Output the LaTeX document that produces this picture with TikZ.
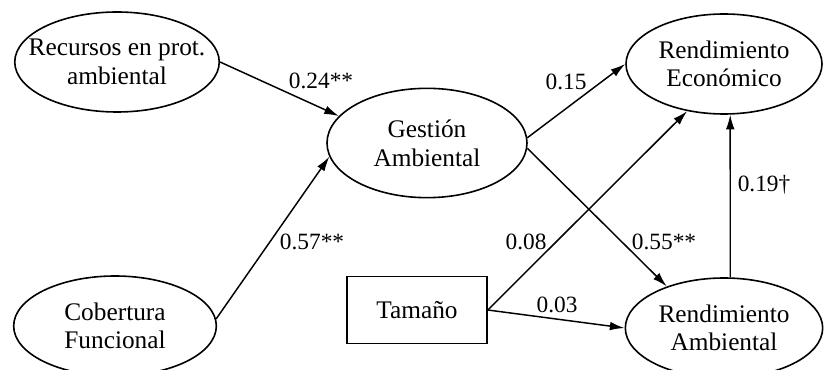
\documentclass[tikz,border=0pt]{standalone}
\usepackage{fontspec}
\setmainfont{Liberation Serif}
\usetikzlibrary{arrows.meta, shapes.geometric}

\begin{document}
\begin{tikzpicture}[x=0.75pt, y=-0.75pt,
    latent/.style={draw, ellipse, line width=1.2pt, inner sep=0pt, minimum width=152pt, minimum height=75pt, align=center, font=\fontsize{19}{21.5}\selectfont},
    observed/.style={draw, rectangle, line width=1.2pt, minimum width=105pt, minimum height=50pt, font=\fontsize{19}{21.5}\selectfont},
    effect/.style={line width=1.1pt, -{Latex[length=11pt, width=6.5pt]}},
    coef/.style={font=\fontsize{17.5}{20}\selectfont, inner sep=1pt}]
    \useasboundingbox (0,0) rectangle (824,370);
    \node[latent, inner xsep=-12pt] (rec) at (117,62) {Recursos en prot.\\ambiental};
    \node[latent, minimum width=150pt, minimum height=82pt] (gest) at (427,143) {Gestión\\Ambiental};
    \node[latent] (cob) at (115,326) {Cobertura\\Funcional};
    \node[observed] (tam) at (417,310) {Tamaño};
    \node[latent, minimum width=147pt] (reco) at (724,64) {Rendimiento\\Económico};
    \node[latent, minimum width=148pt] (ream) at (724,328) {Rendimiento\\Ambiental};
    \draw[effect] (rec.east) -- (gest.163);
    \draw[effect] (cob.4) -- (gest.188);
    \draw[effect] (gest.3) -- (reco.west);
    \draw[effect] (gest.357) -- (ream.144);
    \draw[effect] (tam.east) -- (reco.232);
    \draw[effect] (tam.east) -- (ream.west);
    \draw[effect] (ream.83) -- (reco.277);
    \node[coef] (c1) at (321,81) {0.24**};
    \node[coef] (c2) at (312,242) {0.57**};
    \node[coef] (c3) at (566,82) {0.15};
    \node[coef] (c4) at (526,242) {0.08};
    \node[coef] (c5) at (664,242) {0.55**};
    \node[coef] (c6) at (557,305) {0.03};
    \node[coef] (c7) at (764,185) {0.19†};
\end{tikzpicture}
\end{document}
